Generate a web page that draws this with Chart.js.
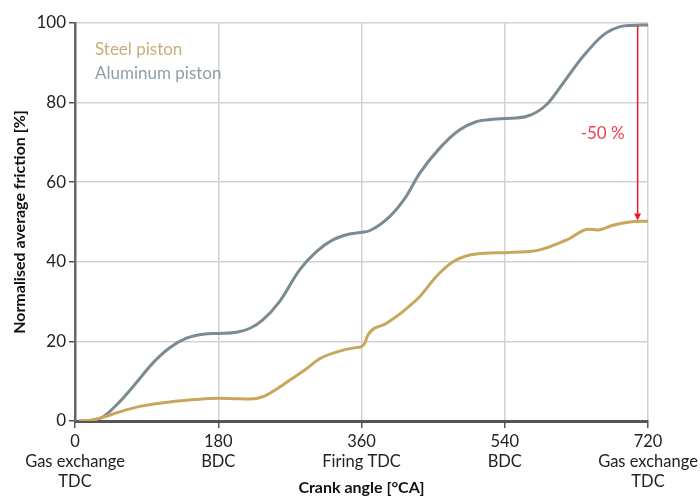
<!DOCTYPE html>
<html><head><meta charset="utf-8">
<script src="https://cdn.jsdelivr.net/npm/chart.js@4/dist/chart.umd.min.js"></script>
<style>html,body{margin:0;padding:0;background:#fff}</style>
</head><body>
<canvas id="c" width="700" height="498"></canvas>
<script>
// ---- data ----
const aluminumAngles = [5, 15, 25, 35, 56, 77, 98, 119, 140, 161, 180, 203, 220, 236, 257, 282, 303, 324, 345, 361, 370, 395, 416, 433, 458, 483, 504, 525, 541, 567, 592, 613, 638, 664, 685, 700, 720];
const aluminumValues = [0, 0, 0.3, 1, 4.8, 9.6, 14.6, 18.4, 20.8, 21.8, 22, 22.3, 23.3, 25.4, 30, 37.9, 42.5, 45.5, 47, 47.4, 47.8, 51.3, 56.4, 62.2, 68.5, 73.1, 75.2, 75.8, 76, 76.5, 79.4, 84.8, 91.5, 97, 99.1, 99.4, 99.5];
const steelAngles = [5, 20, 35, 56, 85, 119, 152, 180, 200, 220, 236, 253, 270, 290, 308, 337, 355, 360, 364, 368, 391, 412, 433, 454, 475, 496, 520, 540, 584, 618, 645, 652, 657, 676, 697, 720];
const steelValues = [0, 0.2, 0.9, 2.3, 3.8, 4.8, 5.4, 5.7, 5.6, 5.5, 6.1, 8, 10.3, 13, 15.7, 17.8, 18.5, 18.7, 19.5, 21.6, 24.5, 27.5, 31.2, 36.3, 40, 41.7, 42.2, 42.3, 43, 45.5, 48.2, 48.1, 48, 49.2, 50, 50.2];
const xTickValues = [0, 180, 360, 540, 720];
const xTickNames = [['Gas exchange', 'TDC'], ['BDC'], ['Firing TDC'], ['BDC'], ['Gas exchange', 'TDC']];
const seriesNames = ['Steel piston', 'Aluminum piston'];
const arrowAngle = 707;
const arrowFrom = 99.3;
const arrowTo = 50.4;
const arrowLabel = '-50 %';

const FONT = 'Lato, "Liberation Sans", sans-serif';
const steelColor = '#c8a65c';
const aluColor = '#7b8a93';

const toPts = (xs, ys) => xs.map((x, i) => ({x, y: ys[i]}));

const legendPlugin = {
  id: 'textLegend',
  afterDraw(chart) {
    const {ctx, chartArea} = chart;
    ctx.save();
    ctx.font = '17px ' + FONT;
    ctx.textBaseline = 'middle';
    ctx.textAlign = 'left';
    ctx.fillStyle = '#c9ad78';
    ctx.fillText(seriesNames[0], chartArea.left + 20, chartArea.top + 27);
    ctx.fillStyle = '#8f9ea8';
    ctx.fillText(seriesNames[1], chartArea.left + 20, chartArea.top + 51);
    ctx.restore();
  }
};

const arrowPlugin = {
  id: 'arrow',
  afterDatasetsDraw(chart) {
    const {ctx} = chart;
    const xs = chart.scales.x, ys = chart.scales.y;
    const x = xs.getPixelForValue(arrowAngle);
    const y1 = ys.getPixelForValue(arrowFrom);
    const y2 = ys.getPixelForValue(arrowTo);
    ctx.save();
    ctx.strokeStyle = '#e8192c';
    ctx.fillStyle = '#e8192c';
    ctx.lineWidth = 1.5;
    ctx.beginPath();
    ctx.moveTo(x, y1);
    ctx.lineTo(x, y2 - 6);
    ctx.stroke();
    ctx.beginPath();
    ctx.moveTo(x - 3.5, y2 - 7);
    ctx.lineTo(x + 3.5, y2 - 7);
    ctx.lineTo(x, y2);
    ctx.closePath();
    ctx.fill();
    ctx.font = '17px ' + FONT;
    ctx.fillStyle = '#f0404f';
    ctx.textAlign = 'center';
    ctx.textBaseline = 'middle';
    ctx.fillText(arrowLabel, xs.getPixelForValue(663), ys.getPixelForValue(72.3));
    ctx.restore();
  }
};

new Chart(document.getElementById('c'), {
  type: 'line',
  data: {
    datasets: [
      {label: seriesNames[0], data: toPts(steelAngles, steelValues), borderColor: steelColor, borderWidth: 3, pointRadius: 0, cubicInterpolationMode: 'monotone', fill: false},
      {label: seriesNames[1], data: toPts(aluminumAngles, aluminumValues), borderColor: aluColor, borderWidth: 3, pointRadius: 0, cubicInterpolationMode: 'monotone', fill: false}
    ]
  },
  options: {
    responsive: false,
    animation: false,
    devicePixelRatio: 1,
    layout: {padding: {top: 23, right: 52, left: 0, bottom: 0}},
    plugins: {legend: {display: false}, tooltip: {enabled: false}},
    scales: {
      x: {
        type: 'linear', min: 0, max: 720,
        afterBuildTicks: s => { s.ticks = xTickValues.map(v => ({value: v})); },
        afterFit: s => { s.height = 77; s.paddingLeft = 0; s.paddingRight = 0; },
        ticks: {
          autoSkip: false, maxRotation: 0, padding: 4, color: '#222',
          font: {family: FONT, size: 16.5, lineHeight: 1.2},
          callback: (v) => { const i = xTickValues.indexOf(v); return [String(v)].concat(i >= 0 ? xTickNames[i] : []); }
        },
        grid: {color: '#d2d2d2', lineWidth: 1.5, tickLength: 7, tickColor: '#555'},
        border: {color: '#555', width: 3},
        title: {display: true, text: 'Crank angle [°CA]', color: '#111', font: {family: FONT, size: 16, weight: 'bold'}, padding: {top: 0, bottom: 1}}
      },
      y: {
        min: 0, max: 100,
        afterFit: s => { s.width = 75; s.paddingTop = 0; s.paddingBottom = 0; },
        ticks: {stepSize: 20, padding: 3, color: '#222', font: {family: FONT, size: 17}},
        grid: {color: '#d2d2d2', lineWidth: 1.5, tickLength: 6, tickColor: '#555'},
        border: {color: '#666', width: 2.5},
        title: {display: true, text: 'Normalised average friction [%]', color: '#111', font: {family: FONT, size: 16, weight: 'bold'}, padding: {top: 10, bottom: 0}}
      }
    }
  },
  plugins: [legendPlugin, arrowPlugin]
});
</script>
</body></html>
